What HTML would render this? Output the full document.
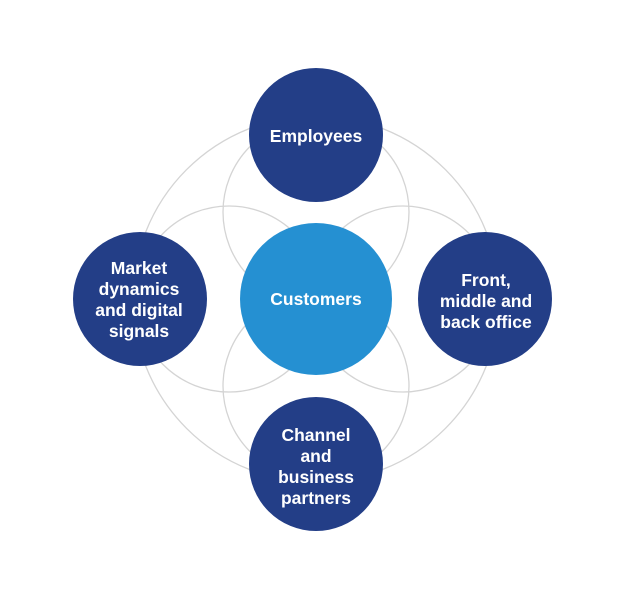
<!DOCTYPE html>
<html><head><style>
body{margin:0;background:#fff;width:624px;height:601px;overflow:hidden}
svg{display:block}
text{font-family:"Liberation Sans",Arial,sans-serif;font-weight:bold;fill:#fff;text-anchor:middle}
</style></head><body>
<svg width="624" height="601" viewBox="0 0 624 601">
<g fill="none" stroke="#d4d4d4" stroke-width="1.3">
<circle cx="316" cy="299" r="183"/>
<circle cx="316" cy="212" r="93"/>
<circle cx="316" cy="386" r="93"/>
<circle cx="229" cy="299" r="93"/>
<circle cx="403" cy="299" r="93"/>
</g>
<circle cx="316" cy="135" r="67" fill="#233e87"/>
<circle cx="140" cy="299" r="67" fill="#233e87"/>
<circle cx="485" cy="299" r="67" fill="#233e87"/>
<circle cx="316" cy="464" r="67" fill="#233e87"/>
<circle cx="316" cy="299" r="76" fill="#2590d2"/>
<g font-size="17.5">
<text x="316" y="142">Employees</text>
<text x="316" y="305">Customers</text>
<text x="139" y="274">Market</text>
<text x="139" y="295">dynamics</text>
<text x="139" y="316">and digital</text>
<text x="139" y="337">signals</text>
<text x="486" y="286">Front,</text>
<text x="486" y="307">middle and</text>
<text x="486" y="328">back office</text>
<text x="316" y="441">Channel</text>
<text x="316" y="462">and</text>
<text x="316" y="483">business</text>
<text x="316" y="504">partners</text>
</g>
</svg>
</body></html>
